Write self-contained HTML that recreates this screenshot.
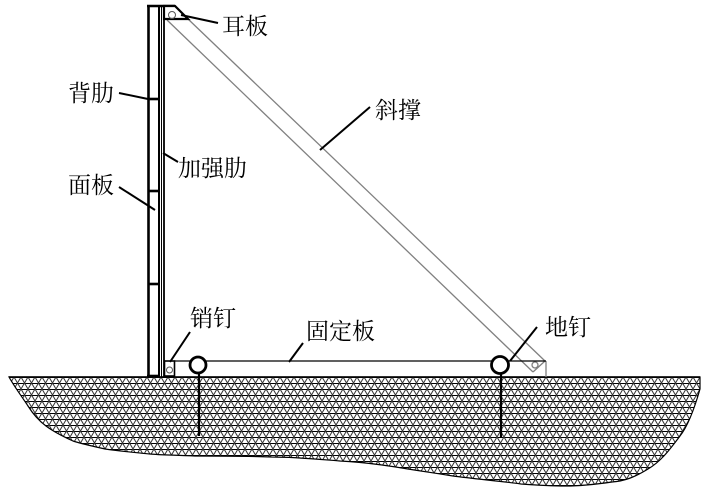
<!DOCTYPE html>
<html><head><meta charset="utf-8"><style>
html,body{margin:0;padding:0;background:#fff;}
svg{display:block;}
text{font-family:"Liberation Serif","Noto Serif CJK SC",serif;font-size:23px;fill:#000;}
</style></head><body>
<svg width="709" height="489" viewBox="0 0 709 489" xmlns="http://www.w3.org/2000/svg">
<defs>
<pattern id="tri" x="0" y="377" width="7" height="12" patternUnits="userSpaceOnUse">
<line x1="0" y1="0.5" x2="7" y2="0.5" stroke="#000" stroke-width="1"/>
<line x1="0" y1="6.5" x2="7" y2="6.5" stroke="#000" stroke-width="1"/>
<line x1="0" y1="0" x2="7" y2="12" stroke="#333" stroke-width="1"/>
<line x1="7" y1="0" x2="0" y2="12" stroke="#333" stroke-width="1"/>
</pattern>
</defs>
<!-- ground -->
<path d="M9,377 L700,377 L700,389 C694,410 688,426 680,436 C668,452 660,462 648,469 C635,477 625,481 612,482 C598,484 580,486 566,486 C550,486 535,485 521,484 C500,481 475,479 453,476 C435,473 420,471 408,469 C385,465 360,462 340,461 C315,459 295,457 272,457 C245,456 220,456 195,456 C175,455 160,455 150,454 C130,452 118,451 105,449 C92,446 82,444 73,441 C62,436 54,432 46,426 C38,420 33,414 28,406 C20,394 14,386 9,377 Z" fill="url(#tri)" stroke="#000" stroke-width="1.2"/>
<line x1="9" y1="377" x2="700" y2="377" stroke="#000" stroke-width="1.5"/>

<!-- strut -->
<g stroke="#808080" stroke-width="1.3" fill="none">
<line x1="188" y1="19" x2="545" y2="361"/>
<line x1="167" y1="20" x2="533" y2="372"/>
<line x1="533" y1="372" x2="545" y2="361"/>
<line x1="546" y1="361" x2="546" y2="377"/>
<circle cx="535" cy="365" r="3"/>
</g>

<!-- fixed plate -->
<line x1="174" y1="361" x2="546" y2="361" stroke="#000" stroke-width="1.2"/>

<!-- wall -->
<g stroke="#000" fill="none">
<line x1="148.5" y1="5" x2="148.5" y2="377" stroke-width="2.6"/>
<line x1="159" y1="5" x2="159" y2="377" stroke-width="2"/>
<line x1="161.5" y1="6" x2="161.5" y2="377" stroke-width="1"/>
<line x1="164" y1="6" x2="164" y2="377" stroke-width="1.8"/>
<line x1="147" y1="6" x2="175" y2="6" stroke-width="2.6"/>
<line x1="148" y1="99" x2="159" y2="99" stroke-width="2.6"/>
<line x1="148" y1="191" x2="159" y2="191" stroke-width="2.6"/>
<line x1="148" y1="284" x2="159" y2="284" stroke-width="2.6"/>
<line x1="147" y1="376" x2="160" y2="376" stroke-width="2.6"/>
<!-- ear plate -->
<polygon points="164,6 175,6 188,19 164,19" stroke-width="2.2" fill="#fff"/>
<circle cx="172" cy="15" r="3.5" stroke-width="1" stroke="#555"/>
<!-- pin box -->
<rect x="164.5" y="361" width="10" height="15" stroke-width="1.6" fill="#fff"/>
<circle cx="169.5" cy="370" r="3" stroke-width="1" stroke="#555"/>
</g>

<!-- stakes -->
<g stroke="#000" fill="#fff">
<line x1="199" y1="373" x2="199" y2="436" stroke-width="2.2"/>
<line x1="501" y1="373" x2="501" y2="438" stroke-width="2.2"/>
<circle cx="198" cy="365" r="8" stroke-width="2.8"/>
<circle cx="500" cy="365" r="8.5" stroke-width="2.8"/>
</g>

<!-- leaders -->
<g stroke="#000" stroke-width="2" fill="none">
<line x1="181" y1="15" x2="218" y2="23"/>
<line x1="119" y1="93" x2="148" y2="99"/>
<line x1="163" y1="153" x2="178" y2="162"/>
<line x1="119" y1="187" x2="155" y2="210"/>
<line x1="370" y1="107" x2="320" y2="150"/>
<line x1="190" y1="332" x2="170" y2="362"/>
<line x1="537" y1="327" x2="510" y2="361"/>
<line x1="303" y1="343" x2="289" y2="362"/>
</g>

<!-- labels -->
<text x="222" y="34">耳板</text>
<text x="68" y="101">背肋</text>
<text x="178" y="176">加强肋</text>
<text x="68" y="193">面板</text>
<text x="375" y="118">斜撑</text>
<text x="190" y="326">销钉</text>
<text x="545" y="335">地钉</text>
<text x="306" y="339">固定板</text>
</svg>
</body></html>
